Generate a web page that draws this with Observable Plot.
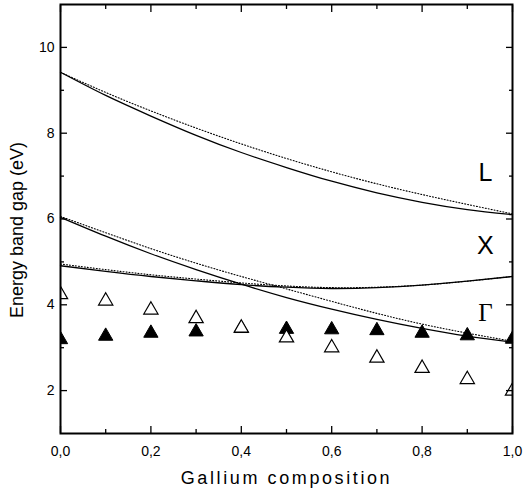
<!DOCTYPE html>
<html>
<head>
<meta charset="utf-8">
<script src="https://cdn.jsdelivr.net/npm/d3@7"></script>
<script src="https://cdn.jsdelivr.net/npm/@observablehq/plot@0.6"></script>
<style>
  html, body { margin: 0; padding: 0; background: #fff; }
  #chart svg { display: block; }
</style>
</head>
<body>
<div id="chart"></div>
<script>
// ---- data ----
const composition = [0, 0.1, 0.2, 0.3, 0.4, 0.5, 0.6, 0.7, 0.8, 0.9, 1.0];
const lSolid    = [9.42, 8.88, 8.40, 7.95, 7.55, 7.20, 6.88, 6.61, 6.39, 6.22, 6.10];
const lDotted   = [9.42, 8.95, 8.52, 8.12, 7.75, 7.41, 7.10, 6.82, 6.57, 6.34, 6.12];
const xSolid    = [6.04, 5.60, 5.19, 4.82, 4.48, 4.17, 3.90, 3.66, 3.45, 3.27, 3.13];
const xDotted   = [6.06, 5.68, 5.31, 4.97, 4.66, 4.37, 4.08, 3.80, 3.55, 3.34, 3.15];
const gSolid    = [4.91, 4.78, 4.66, 4.56, 4.47, 4.41, 4.38, 4.40, 4.46, 4.55, 4.66];
const gDotted   = [4.95, 4.82, 4.70, 4.60, 4.51, 4.44, 4.40, 4.41, 4.46, 4.55, 4.66];
const openTri   = [4.24, 4.09, 3.88, 3.68, 3.46, 3.23, 3.00, 2.76, 2.52, 2.26, 1.99];
const filledTri = [3.19, 3.27, 3.34, 3.37, 3.45, 3.43, 3.42, 3.40, 3.34, 3.28, 3.20];

const bandLabels = ["L", "X", "Γ"];
const bandLabelComp = [0.94, 0.94, 0.94];
const bandLabelEnergy = [7.08, 5.36, 3.82];

const xMajorTicks = [0, 0.2, 0.4, 0.6, 0.8, 1.0];
const xMinorTicks = [0.1, 0.3, 0.5, 0.7, 0.9];
const xTickLabels = ["0,0", "0,2", "0,4", "0,6", "0,8", "1,0"];
const yMajorTicks = [2, 4, 6, 8, 10];
const yMinorTicks = [3, 5, 7, 9];
const yTickLabels = ["2", "4", "6", "8", "10"];

const xTitle = "Gallium composition";
const yTitle = "Energy band gap (eV)";

// ---- table ----
const rows = composition.map((c, i) => ({
  c,
  lSolid: lSolid[i], lDotted: lDotted[i],
  xSolid: xSolid[i], xDotted: xDotted[i],
  gSolid: gSolid[i], gDotted: gDotted[i],
  open: openTri[i], filled: filledTri[i]
}));
const labelRows = bandLabels.map((t, i) => ({t, c: bandLabelComp[i], e: bandLabelEnergy[i]}));

const font = "'Liberation Sans', Arial, Helvetica, sans-serif";
const solid = {stroke: "#000", strokeWidth: 1.3, curve: "natural"};
const dotted = {stroke: "#000", strokeWidth: 1.1, strokeDasharray: "1,2", curve: "natural"};

const chart = Plot.plot({
  width: 523,
  height: 498,
  marginLeft: 60,
  marginRight: 11,
  marginTop: 4,
  marginBottom: 65,
  style: {fontFamily: font, fontSize: "14px", color: "#000", background: "#fff"},
  x: {domain: [0, 1]},
  y: {domain: [1, 11]},
  marks: [
    // lines
    Plot.line(rows, {x: "c", y: "lDotted", ...dotted}),
    Plot.line(rows, {x: "c", y: "xDotted", ...dotted}),
    Plot.line(rows, {x: "c", y: "gDotted", ...dotted}),
    Plot.line(rows, {x: "c", y: "lSolid", ...solid}),
    Plot.line(rows, {x: "c", y: "xSolid", ...solid}),
    Plot.line(rows, {x: "c", y: "gSolid", ...solid}),
    // triangles
    Plot.dot(rows, {x: "c", y: "filled", symbol: "triangle", r: 5.3, fill: "#000", stroke: "#000", strokeWidth: 1, clip: true}),
    Plot.dot(rows, {x: "c", y: "open", symbol: "triangle", r: 5.3, fill: "#fff", stroke: "#000", strokeWidth: 1.2, clip: true}),
    // band labels
    Plot.text(labelRows.filter(d => d.t !== "Γ"), {x: "c", y: "e", text: "t", fontSize: 25, fontFamily: font, fill: "#000"}),
    Plot.text(labelRows.filter(d => d.t === "Γ"), {x: "c", y: "e", text: "t", fontSize: 25, fontFamily: "'Liberation Serif', 'Times New Roman', serif", fill: "#000"}),
    // tick labels
    Plot.axisX(xMajorTicks, {anchor: "bottom", tickSize: 0, tickPadding: 13, label: null, fontSize: 14,
      tickFormat: d => xTickLabels[xMajorTicks.indexOf(d)]}),
    Plot.axisY(yMajorTicks, {anchor: "left", tickSize: 0, tickPadding: 6, label: null, fontSize: 14,
      tickFormat: d => yTickLabels[yMajorTicks.indexOf(d)]}),
    // inward ticks on all sides
    Plot.axisX(xMajorTicks, {anchor: "bottom", tickSize: -7, tickFormat: () => "", label: null, strokeWidth: 1.3}),
    Plot.axisX(xMinorTicks, {anchor: "bottom", tickSize: -4, tickFormat: () => "", label: null, strokeWidth: 1.3}),
    Plot.axisX(xMajorTicks, {anchor: "top", tickSize: -7, tickFormat: () => "", label: null, strokeWidth: 1.3}),
    Plot.axisX(xMinorTicks, {anchor: "top", tickSize: -4, tickFormat: () => "", label: null, strokeWidth: 1.3}),
    Plot.axisY(yMajorTicks, {anchor: "left", tickSize: -7, tickFormat: () => "", label: null, strokeWidth: 1.3}),
    Plot.axisY(yMinorTicks, {anchor: "left", tickSize: -4, tickFormat: () => "", label: null, strokeWidth: 1.3}),
    Plot.axisY(yMajorTicks, {anchor: "right", tickSize: -7, tickFormat: () => "", label: null, strokeWidth: 1.3}),
    Plot.axisY(yMinorTicks, {anchor: "right", tickSize: -4, tickFormat: () => "", label: null, strokeWidth: 1.3}),
    // axis titles
    Plot.text([xTitle], {frameAnchor: "bottom", dy: 50, fontSize: 18, fontFamily: font, fill: "#000"}),
    Plot.text([yTitle], {frameAnchor: "left", textAnchor: "middle", rotate: -90, dx: -43, dy: 11, fontSize: 18, fontFamily: font, fill: "#000"}),
    Plot.frame({stroke: "#000", strokeWidth: 2})
  ]
});

d3.select(chart).selectAll("text")
  .filter(function () { return this.textContent === xTitle; })
  .attr("letter-spacing", "2.6px");

document.getElementById("chart").appendChild(chart);
</script>
</body>
</html>
